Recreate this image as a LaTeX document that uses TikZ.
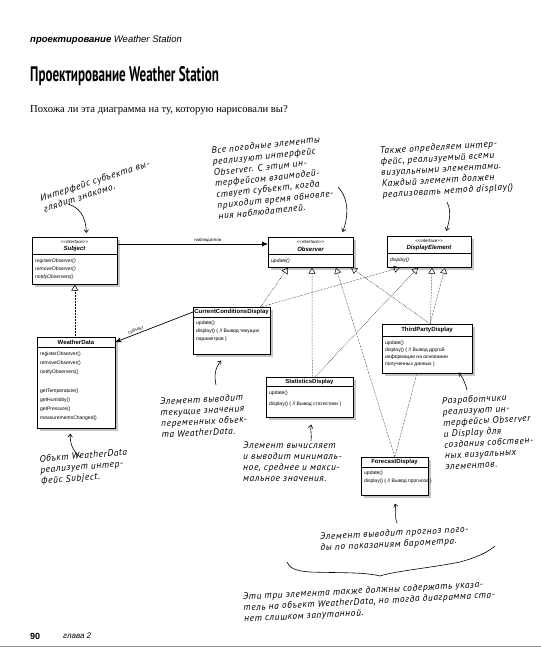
\documentclass[tikz,border=0pt]{standalone}
\usepackage{fontspec}
\setmainfont{Liberation Sans}
\newfontfamily\hand[LetterSpace=6]{PT Sans}
\newfontfamily\serifx{Liberation Serif}
\newfontfamily\titlef{PT Sans}
\usetikzlibrary{arrows.meta,shadows,calc}
\pgfdeclarelayer{back}
\pgfdeclarelayer{bg}
\pgfsetlayers{back,bg,main}
\tikzset{
  umlbox/.style={draw, line width=0.6pt, fill=white, anchor=north west, inner sep=0pt,
    drop shadow={shadow xshift=2.5pt, shadow yshift=-2.5pt, fill=black!45}},
  divl/.style={line width=0.6pt},
  st/.style={inner sep=0pt, font=\fontsize{4.4}{5}\selectfont},
  tt/.style={inner sep=0pt, font=\fontsize{6}{7}\selectfont\bfseries},
  itt/.style={inner sep=0pt, font=\fontsize{6}{7}\selectfont\bfseries\itshape},
  mt/.style={inner sep=0pt, anchor=west, font=\fontsize{5}{6}\selectfont},
  imt/.style={inner sep=0pt, anchor=west, font=\fontsize{5}{6}\selectfont\itshape},
  impl/.style={densely dotted, line width=0.5pt, -{Triangle[open,length=6pt,width=7pt]}},
  note/.style={inner sep=0pt, anchor=north west, align=left, font=\hand\itshape\fontsize{9.5}{11}\selectfont},
  narr/.style={line width=0.6pt, -{Straight Barb[length=3pt,width=4.5pt]}},
}
\begin{document}
\begin{tikzpicture}[x=1pt,y=-1pt]
\begin{pgfonlayer}{back}
\fill[white] (0,0) rectangle (541,654);
\end{pgfonlayer}
\useasboundingbox (0,0) rectangle (541,654);

% header
\node[anchor=west,inner sep=0pt,font=\fontsize{9.5}{11}\selectfont\bfseries\itshape] (hdr) at (30,40) {проектирование \mdseries Weather Station};
\node[anchor=west,inner sep=0pt] (title) at (30,76) {\scalebox{0.62}[1]{\titlef\bfseries\fontsize{21}{24}\selectfont Проектирование Weather Station}};
\node[anchor=west,inner sep=0pt,font=\serifx\fontsize{10.6}{12}\selectfont] (sub) at (30,110) {Похожа ли эта диаграмма на ту, которую нарисовали вы?};

% Subject
\node[umlbox, minimum width=85, minimum height=47] (subj) at (32,237) {};
\draw[divl] (32,254) -- (117,254);
\node[st] (subjs) at (74.5,241.5) {<{}<interface>{}>};
\node[itt] (subjn) at (74.5,249) {Subject};
\node[imt] (subj1) at (35,261) {registerObserver()};
\node[imt] (subj2) at (35,269) {removeObserver()};
\node[imt] (subj3) at (35,277) {notifyObservers()};

% Observer
\node[umlbox, minimum width=85, minimum height=30] (obs) at (268,237) {};
\draw[divl] (268,254) -- (353,254);
\node[st] (obss) at (310.5,241.5) {<{}<interface>{}>};
\node[itt] (obsn) at (310.5,249) {Observer};
\node[imt] (obs1) at (271,261) {update()};

% DisplayElement
\node[umlbox, minimum width=84, minimum height=31] (de) at (387,236) {};
\draw[divl] (387,253) -- (471,253);
\node[st] (des) at (429,240.5) {<{}<interface>{}>};
\node[itt] (den) at (429,248) {DisplayElement};
\node[imt] (de1) at (390,260) {display()};

% CurrentConditionsDisplay
\node[umlbox, minimum width=77, minimum height=47] (ccd) at (193,307) {};
\draw[divl] (193,317) -- (270,317);
\node[tt] (ccdn) at (231.5,312) {CurrentConditionsDisplay};
\node[mt] (ccd1) at (196,323) {update()};
\node[mt] (ccd2) at (196,331) {display() \{ // Вывод текущих};
\node[mt] (ccd3) at (196,339) {параметров \}};

% WeatherData
\node[umlbox, minimum width=78, minimum height=91] (wd) at (37,337) {};
\draw[divl] (37,347) -- (115,347);
\node[tt] (wdn) at (76,342) {WeatherData};
\node[mt] (wd1) at (40,354) {registerObserver()};
\node[mt] (wd2) at (40,363) {removeObserver()};
\node[mt] (wd3) at (40,372) {notifyObservers()};
\node[mt] (wd4) at (40,391) {getTemperature()};
\node[mt] (wd5) at (40,400) {getHumidity()};
\node[mt] (wd6) at (40,409) {getPressure()};
\node[mt] (wd7) at (40,418) {measurementsChanged()};

% ThirdPartyDisplay
\node[umlbox, minimum width=90, minimum height=49] (tpd) at (382,324) {};
\draw[divl] (382,336) -- (472,336);
\node[tt] (tpdn) at (427,330) {ThirdPartyDisplay};
\node[mt] (tpd1) at (385,343) {update()};
\node[mt] (tpd2) at (385,350) {display() \{ // Вывод другой};
\node[mt] (tpd3) at (385,357) {информации на основании};
\node[mt] (tpd4) at (385,364) {полученных данных \}};

% StatisticsDisplay
\node[umlbox, minimum width=87, minimum height=40] (stat) at (266,377) {};
\draw[divl] (266,386) -- (353,386);
\node[tt] (statn) at (309.5,381.5) {StatisticsDisplay};
\node[mt] (stat1) at (269,393) {update()};
\node[mt] (stat2) at (269,404) {display() \{ // Вывод статистики \}};

% ForecastDisplay
\node[umlbox, minimum width=67, minimum height=38] (fc) at (361,457) {};
\draw[divl] (361,467) -- (428,467);
\node[tt] (fcn) at (394.5,462) {ForecastDisplay};
\node[mt] (fc1) at (364,473) {update()};
\node[mt] (fc2) at (364,481) {display() \{ // Вывод прогноза \}};

% associations
\draw[line width=0.7pt, -{Latex[length=6pt,width=5pt]}] ([yshift=-7]subj.north east) -- ([yshift=-7]obs.north west)
  node[pos=0.6, above=1.5pt, st] (lblobs) {наблюдатели};
\draw[line width=0.7pt, -{Stealth[length=6pt,width=5pt]}] ([yshift=-5]ccd.north west) -- ([yshift=-5]wd.north east)
  node[pos=0.72, sloped, above=1pt, st] (lblsubj) {субъект};

% implementations
\draw[impl] (subj.south |- wd.north) -- (subj.south);
\draw[impl] ([xshift=-10]ccd.north east) -- ([xshift=20]obs.south west);
\draw[impl] ([xshift=-10]ccd.north east) -- ([xshift=13]de.south west);
\draw[impl] ([xshift=2.5]stat.north) -- ([xshift=44]obs.south west);
\draw[impl] ([xshift=5]stat.north) -- ([xshift=31]de.south west);
\draw[impl] (fc.north) -- ([xshift=68]obs.south west);
\draw[impl] ([xshift=3]tpd.north) -- ([xshift=83]obs.south west);
\draw[impl] ([xshift=3]tpd.north) -- ([xshift=45]de.south west);
\begin{pgfonlayer}{bg}
\draw[impl] (fc.north) -- ([xshift=58]de.south west);
\end{pgfonlayer}

% notes
\node[note, rotate=18] (n1) at (39,195) {Интерфейс субъекта вы-\\глядит знакомо.};
\node[note, rotate=6] (n2) at (211,147) {Все погодные элементы\\реализуют интерфейс\\Observer. С этим ин-\\терфейсом взаимодей-\\ствует субъект, когда\\приходит время обновле-\\ния наблюдателей.};
\node[note, rotate=3.5] (n3) at (379.5,147) {Также определяем интер-\\фейс, реализуемый всеми\\визуальными элементами.\\Каждый элемент должен\\реализовать метод display()};
\node[note, rotate=3] (n4) at (159.6,398) {Элемент выводит\\текущие значения\\переменных объек-\\та WeatherData.};
\node[note, rotate=4.5] (n5) at (39,455) {Объкт WeatherData\\реализует интер-\\фейс Subject.};
\node[note, rotate=0] (n6) at (243,442) {Элемент вычисляет\\и выводит минималь-\\ное, среднее и макси-\\мальное значения.};
\node[note, rotate=3] (n7) at (441.6,397) {Разработчики\\реализуют ин-\\терфейсы Observer\\и Display для\\создания собствен-\\ных визуальных\\элементов.};
\node[note, rotate=3] (n8) at (319.6,533) {Элемент выводит прогноз пого-\\ды по показаниям барометра.};
\node[note, rotate=3] (n9) at (242.6,593) {Эти три элемента также должны содержать указа-\\тель на объект WeatherData, но тогда диаграмма ста-\\нет слишком запутанной.};

% note arrows
\coordinate (a1) at (68,204);
\draw[narr] (a1) .. controls (78,207) and (86,215) .. ([xshift=11.5,yshift=4]subj.north);
\coordinate (a2) at (338,187);
\draw[narr] (a2) .. controls (350,200) and (348,218) .. ([xshift=-11,yshift=5]obs.north east);
\coordinate (a3) at (447,202);
\draw[narr] (a3) .. controls (452,212) and (449,222) .. ([xshift=17,yshift=5]de.north);
\coordinate (a4) at (216,385);
\draw[narr] (a4) .. controls (214,375) and (215,368) .. ([xshift=-10.5,yshift=-6]ccd.south);
\coordinate (a5) at (80,457);
\draw[narr] (a5) .. controls (72,450) and (70,443) .. ([xshift=-6,yshift=-5]wd.south);
\coordinate (a6) at (311,441);
\draw[narr] (a6) .. controls (312,435) and (310,430) .. ([xshift=1.5,yshift=-7]stat.south);
\coordinate (a7) at (467,390);
\draw[narr] (a7) .. controls (465,382) and (462,376) .. ([xshift=-14,yshift=1]tpd.south east);
\coordinate (a8) at (397,523);
\draw[narr] (a8) .. controls (394,516) and (397,510) .. ([yshift=-8]fc.south);

% brace
\draw[line width=0.6pt] (287,562) .. controls (289,568) and (296,571) .. (310,572)
  .. controls (340,573) and (365,572) .. (380,576)
  .. controls (395,571) and (430,568) .. (460,562)
  .. controls (478,557) and (488,552) .. (495,546);

% footer
\draw[black!45, line width=0.8pt] (0,646) -- (541,646);
\node[anchor=west,inner sep=0pt,font=\fontsize{9}{10}\selectfont\bfseries] (pg) at (30,636) {90};
\node[anchor=west,inner sep=0pt,font=\fontsize{8}{10}\selectfont\itshape] (ch) at (63,636) {глава 2};
\end{tikzpicture}
\end{document}
